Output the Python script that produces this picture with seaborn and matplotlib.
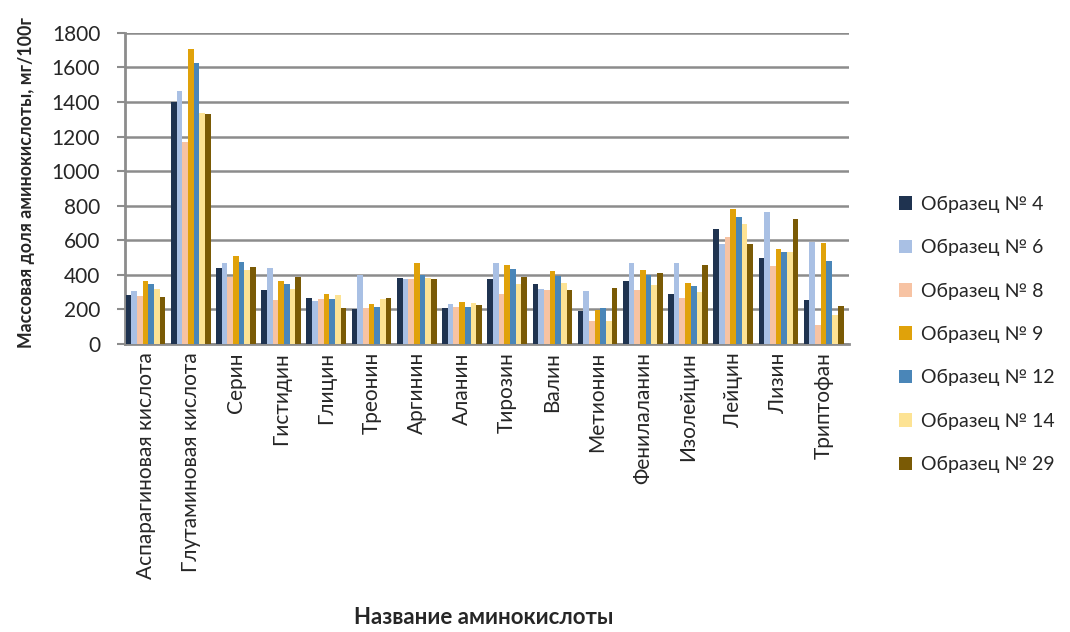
import matplotlib
matplotlib.use("Agg")
import matplotlib.pyplot as plt
import seaborn as sns
import pandas as pd

amino_acids = ["Аспарагиновая кислота", "Глутаминовая кислота", "Серин", "Гистидин",
               "Глицин", "Треонин", "Аргинин", "Аланин", "Тирозин", "Валин",
               "Метионин", "Фенилаланин", "Изолейцин", "Лейцин", "Лизин", "Триптофан"]

samples = ["Образец № 4", "Образец № 6", "Образец № 8", "Образец № 9",
           "Образец № 12", "Образец № 14", "Образец № 29"]

s4 = [280, 1400, 440, 314, 268, 199, 383, 206, 373, 349, 190, 364, 288, 663, 495, 253]
s6 = [306, 1465, 465, 436, 249, 396, 377, 232, 469, 320, 307, 467, 467, 577, 762, 590]
s8 = [275, 1170, 387, 253, 262, 210, 373, 215, 291, 310, 130, 310, 267, 619, 453, 110]
s9 = [364, 1705, 507, 364, 291, 229, 467, 244, 457, 419, 196, 425, 352, 781, 549, 586]
s12 = [348, 1625, 475, 348, 262, 215, 396, 215, 434, 392, 210, 396, 335, 735, 530, 478]
s14 = [318, 1337, 430, 316, 281, 259, 383, 234, 345, 354, 133, 339, 301, 695, 530, 168]
s29 = [272, 1330, 446, 387, 207, 263, 377, 225, 387, 314, 324, 411, 457, 577, 720, 219]

colors = ["#1f3350", "#a9c0e4", "#f7c3a3", "#e0a20a", "#4a86b8", "#fde394", "#7a5a05"]

series = [s4, s6, s8, s9, s12, s14, s29]
df = pd.DataFrame({
    "acid": [a for _ in samples for a in amino_acids],
    "sample": [s for s in samples for _ in amino_acids],
    "value": [v for vals in series for v in vals],
})

sns.set_theme(style="white")
plt.rcParams["font.family"] = ["Lato", "DejaVu Sans"]

fig = plt.figure(figsize=(10.7, 6.32), dpi=100)
ax = fig.add_axes([0.117, 0.456, 0.676, 0.492])

sns.barplot(data=df, x="acid", y="value", hue="sample", palette=colors,
            width=0.88, gap=0.0, saturation=1, ax=ax, zorder=3,
            edgecolor="none")

ax.set_ylim(0, 1800)
ax.set_yticks(range(0, 1801, 200))
ax.set_xlim(-0.45, len(amino_acids) - 0.45)
ax.yaxis.grid(True, color="#8c8c8c", linewidth=1.8, zorder=0)
ax.tick_params(axis="y", labelsize=15, length=6, width=1.5, color="#8c8c8c",
               left=True, pad=12)
ax.tick_params(axis="x", labelsize=15, rotation=90, length=0, pad=6)
for side in ["top", "right"]:
    ax.spines[side].set_visible(False)
ax.spines["left"].set_color("#8c8c8c")
ax.spines["left"].set_linewidth(2)
ax.spines["bottom"].set_color("#8c8c8c")
ax.spines["bottom"].set_linewidth(2)

ax.set_xlabel("Название аминокислоты", fontsize=16, fontweight="bold")
ax.set_ylabel("Массовая доля аминокислоты, мг/100г", fontsize=12.8, fontweight="bold")
ax.xaxis.set_label_coords(0.495, -0.845)
ax.yaxis.set_label_coords(-0.125, 0.52)

handles, labels = ax.get_legend_handles_labels()
ax.legend(handles, labels, loc="center left", bbox_to_anchor=(1.045, 0.03),
          frameon=False, fontsize=14, handlelength=0.7, handleheight=0.7,
          labelspacing=1.35, handletextpad=0.45)

fig.savefig("out.png", dpi=100)
